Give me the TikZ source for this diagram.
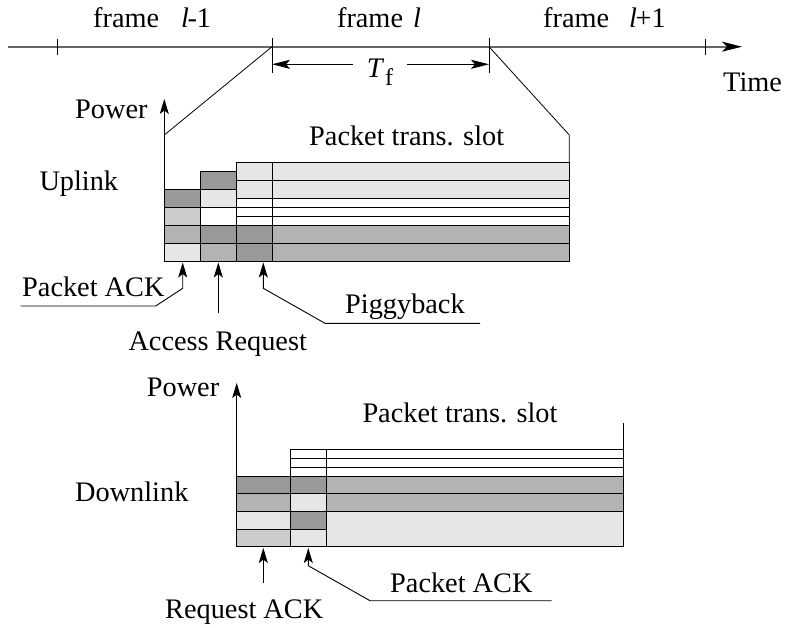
\documentclass[tikz,border=0pt]{standalone}
\usepackage{fontspec}
\setmainfont{Liberation Serif}
\usetikzlibrary{arrows.meta}
\definecolor{cA}{HTML}{E6E6E6}
\definecolor{cB}{HTML}{B3B3B3}
\definecolor{cC}{HTML}{CCCCCC}
\definecolor{cD}{HTML}{999999}
\newcommand{\mycell}[5]{\filldraw[fill=#5,draw=black,line width=0.8pt] (#1,#2) rectangle (#3,#4);}
\tikzset{
  lbl/.style={inner sep=0pt,anchor=base west,font=\fontsize{28.3}{34}\selectfont},
  thin/.style={line width=0.8pt},
  uparrow/.style={line width=0.9pt,-{Stealth[length=15pt,width=9pt,inset=3.5pt]}},
  tfarrow/.style={line width=0.9pt,-{Stealth[length=18pt,width=9pt,inset=4pt]}},
}
\begin{document}
\begin{tikzpicture}[x=1pt,y=-1pt]
\useasboundingbox (0,0) rectangle (786,627);
% ---------- timeline ----------
\coordinate (t0) at (8,46.7);
\coordinate (t1) at (742,46.7);
\draw[line width=1.8pt,black!60,-{Stealth[length=20pt,width=10pt,inset=5pt,color=black]}] (t0) -- (t1);
\draw[thin] (57,38.5) -- (57,55);
\draw[thin] (705,38.5) -- (705,55);
\coordinate (fa) at (272,46.7);
\coordinate (fb) at (489,46.7);
\draw[thin] (272,38) -- (272,73);
\draw[thin] (489,38) -- (489,73);
\node[lbl] (f1) at (93,27) {frame\hspace{22pt}\textit{l}\kern-1.5pt-1};
\node[lbl,anchor=base] (f2) at (379,27) {frame\hspace{10pt}\textit{l}};
\node[lbl] (f3) at (543,27) {frame\hspace{20pt}\textit{l}\kern-1.5pt+1};
\node[lbl] (time) at (723,91.7) {Time};
\node[inner sep=0pt,font=\fontsize{28.3}{34}\selectfont] (tf) at (380,72) {\textit{T}\kern1pt\raisebox{-8pt}{\fontsize{24}{28}\selectfont f}};
\coordinate (tfl) at (353,64.3);
\coordinate (tfr) at (407,64.3);
\coordinate (tfa) at (272,64.3);
\coordinate (tfb) at (489,64.3);
\draw[tfarrow] (tfl) -- (tfa);
\draw[tfarrow] (tfr) -- (tfb);
% ---------- uplink ----------
\coordinate (uo) at (164.3,261.3);
\coordinate (ut) at (164.3,99);
\draw[uparrow] (uo) -- (ut);
\coordinate (us) at (164.3,135);
\coordinate (ue) at (569.3,135);
\coordinate (uet) at (569.3,162.3);
\draw[thin] (fa) -- (us);
\draw[thin] (fb) -- (ue) -- (uet);
\node[lbl] (upow) at (75,118.3) {Power};
\node[lbl] (upl) at (39.3,190) {Uplink};
\node[lbl] (uslot) at (309,145) {Packet trans. slot};
% column 1
\mycell{164.3}{261.3}{200}{243.3}{cA}
\mycell{164.3}{243.3}{200}{225.3}{cB}
\mycell{164.3}{225.3}{200}{207.3}{cC}
\mycell{164.3}{207.3}{200}{189.3}{cD}
% column 2
\mycell{200}{261.3}{236.7}{243.3}{cB}
\mycell{200}{243.3}{236.7}{225.3}{cD}
\mycell{200}{225.3}{236.7}{207.3}{white}
\mycell{200}{207.3}{236.7}{189.3}{cA}
\mycell{200}{189.3}{236.7}{171.3}{cD}
% column 3
\mycell{236.7}{261.3}{272.3}{243.3}{cD}
\mycell{236.7}{243.3}{272.3}{225.3}{cD}
\mycell{236.7}{225.3}{272.3}{216.3}{white}
\mycell{236.7}{216.3}{272.3}{207.3}{white}
\mycell{236.7}{207.3}{272.3}{198.3}{white}
\mycell{236.7}{198.3}{272.3}{180.3}{cA}
\mycell{236.7}{180.3}{272.3}{162.3}{cA}
% long area
\mycell{272.3}{261.3}{569.3}{243.3}{cB}
\mycell{272.3}{243.3}{569.3}{225.3}{cB}
\mycell{272.3}{225.3}{569.3}{216.3}{white}
\mycell{272.3}{216.3}{569.3}{207.3}{white}
\mycell{272.3}{207.3}{569.3}{198.3}{white}
\mycell{272.3}{198.3}{569.3}{180.3}{cA}
\mycell{272.3}{180.3}{569.3}{162.3}{cA}
% uplink callouts
\coordinate (pa1) at (182.7,262.5);
\coordinate (pa2) at (182.7,288.3);
\coordinate (pa3) at (155.7,306);
\coordinate (pa4) at (20.7,306);
\draw[uparrow] (pa4) -- (pa3) -- (pa2) -- (pa1);
\node[lbl] (upack) at (22,296.7) {Packet ACK};
\coordinate (ar1) at (218.3,262.5);
\coordinate (ar2) at (218.3,313);
\draw[uparrow] (ar2) -- (ar1);
\node[lbl] (areq) at (128.3,350) {Access Request};
\coordinate (pg1) at (263.3,262.5);
\coordinate (pg2) at (263.3,288.3);
\coordinate (pg3) at (325,323.3);
\coordinate (pg4) at (480,323.3);
\draw[uparrow] (pg4) -- (pg3) -- (pg2) -- (pg1);
\node[lbl] (pig) at (345,313.3) {Piggyback};
% ---------- downlink ----------
\coordinate (do) at (236.7,546.7);
\coordinate (dt) at (236.7,383);
\draw[uparrow] (do) -- (dt);
\node[lbl] (dpow) at (146.7,396.7) {Power};
\node[lbl] (dnl) at (75,501.7) {Downlink};
\node[lbl] (dslot) at (362.3,422.7) {Packet trans. slot};
% column 1
\mycell{236.7}{546.7}{290.7}{529}{cC}
\mycell{236.7}{529}{290.7}{511.3}{cA}
\mycell{236.7}{511.3}{290.7}{493.6}{cB}
\mycell{236.7}{493.6}{290.7}{475.9}{cD}
% column 2
\mycell{290.7}{546.7}{326.7}{529}{cA}
\mycell{290.7}{529}{326.7}{511.3}{cD}
\mycell{290.7}{511.3}{326.7}{493.6}{cA}
\mycell{290.7}{493.6}{326.7}{475.9}{cD}
\mycell{290.7}{475.9}{326.7}{466.9}{white}
\mycell{290.7}{466.9}{326.7}{457.9}{white}
\mycell{290.7}{457.9}{326.7}{448.9}{white}
% long area
\mycell{326.7}{546.7}{623.3}{511.3}{cA}
\mycell{326.7}{511.3}{623.3}{493.6}{cB}
\mycell{326.7}{493.6}{623.3}{475.9}{cB}
\mycell{326.7}{475.9}{623.3}{466.9}{white}
\mycell{326.7}{466.9}{623.3}{457.9}{white}
\mycell{326.7}{457.9}{623.3}{448.9}{white}
\coordinate (de1) at (623.3,448.9);
\coordinate (de2) at (623.3,422.7);
\draw[thin] (de1) -- (de2);
% downlink callouts
\coordinate (ra1) at (263.3,548);
\coordinate (ra2) at (263.3,583);
\draw[uparrow] (ra2) -- (ra1);
\node[lbl] (rack) at (165,618.3) {Request ACK};
\coordinate (dp1) at (308.3,548);
\coordinate (dp2) at (308.3,565.7);
\coordinate (dp3) at (370,600.7);
\coordinate (dp4) at (551.7,600.7);
\draw[uparrow] (dp4) -- (dp3) -- (dp2) -- (dp1);
\node[lbl] (dpack) at (390,592.7) {Packet ACK};
\end{tikzpicture}
\end{document}
